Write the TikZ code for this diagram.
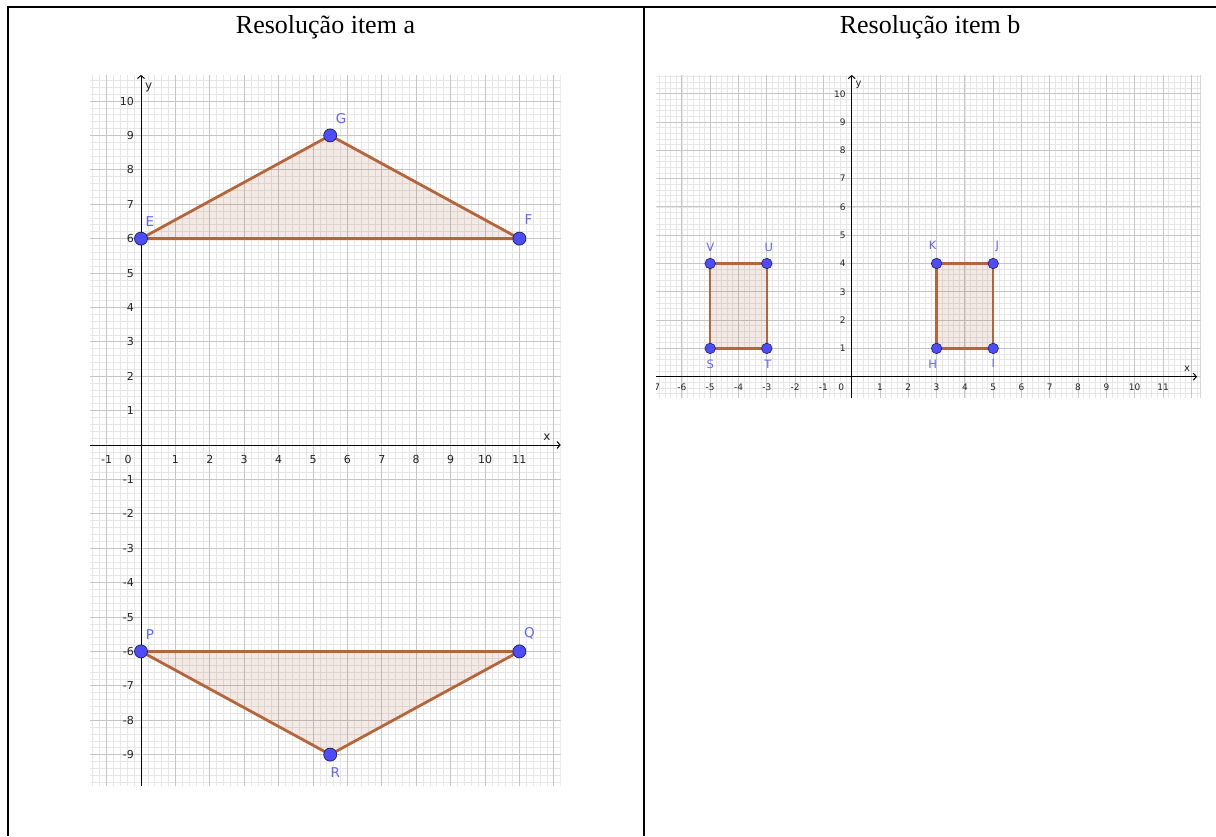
\documentclass[tikz,border=0pt]{standalone}
\usepackage{fontspec}
\setmainfont{Liberation Serif}
\newfontfamily\gfont{DejaVu Sans}
\usetikzlibrary{arrows.meta}
\definecolor{polyline}{RGB}{182,100,58}
\definecolor{polyfill}{RGB}{153,51,0}
\definecolor{ptfill}{RGB}{77,77,255}
\definecolor{ptdraw}{RGB}{30,30,80}
\definecolor{ptlabel}{RGB}{100,100,255}
\definecolor{majorgrid}{RGB}{198,198,198}
\definecolor{minorgrid}{RGB}{230,230,230}
\definecolor{ticklabel}{RGB}{35,35,35}
\tikzset{
  tableline/.style={line width=2pt, black},
  titletext/.style={font=\fontsize{26}{30}\selectfont, anchor=base, inner sep=0pt},
  minorline/.style={minorgrid, line width=0.7pt},
  majorline/.style={majorgrid, line width=1pt},
  axisline/.style={black, line width=1pt, -{Straight Barb[length=3pt,width=7pt]}},
  polyedgeA/.style={polyline, line width=2.8pt, line cap=round, line join=round},
  polyedgeB/.style={polyline, line width=2.3pt, line cap=round, line join=round},
  polyarea/.style={fill=polyfill, fill opacity=0.1},
  ptA/.style={circle, inner sep=0pt, minimum size=13pt, fill=ptfill, draw=ptdraw, line width=0.7pt},
  ptB/.style={circle, inner sep=0pt, minimum size=10.5pt, fill=ptfill, draw=ptdraw, line width=0.6pt},
  ptlabA/.style={text=ptlabel, font=\gfont\fontsize{13.5}{15}\selectfont, inner sep=0pt},
  ptlabB/.style={text=ptlabel, font=\gfont\fontsize{11.5}{13}\selectfont, inner sep=0pt},
  xlabA/.style={text=ticklabel, font=\gfont\fontsize{11}{13}\selectfont, inner sep=0pt, anchor=base, yshift=-18pt},
  ylabA/.style={text=ticklabel, font=\gfont\fontsize{11}{13}\selectfont, inner sep=0pt, anchor=base east, xshift=-7pt, yshift=-4pt},
  xlabB/.style={text=ticklabel, font=\gfont\fontsize{9}{11}\selectfont, inner sep=0pt, anchor=base, yshift=-13.3pt},
  ylabB/.style={text=ticklabel, font=\gfont\fontsize{9}{11}\selectfont, inner sep=0pt, anchor=base east, xshift=-6pt, yshift=-3.3pt},
  axlabA/.style={text=ticklabel, font=\gfont\fontsize{12}{14}\selectfont, inner sep=0pt},
  axlabB/.style={text=ticklabel, font=\gfont\fontsize{10}{12}\selectfont, inner sep=0pt},
}
\begin{document}
\begin{tikzpicture}[x=1pt,y=-1pt]
\useasboundingbox[fill=white] (0,0) rectangle (1216,836);

% table
\draw[tableline] (7,7) -- (1216,7);
\draw[tableline] (8,6) -- (8,836);
\draw[tableline] (644,6) -- (644,836);
\node[titletext] (ta) at (325.5,33) {Resolução item a};
\node[titletext] (tb) at (930,33) {Resolução item b};

% ---------- left graph ----------
\begin{scope}[shift={(141,445)}, x=34.4pt, y=34.4pt]
  \begin{scope}
    \clip (-1.48,-9.9) rectangle (12.2,10.76);
    \foreach \i in {-7,...,61} \draw[minorline] (\i/5,-9.9) -- (\i/5,10.76);
    \foreach \i in {-49,...,53} \draw[minorline] (-1.48,\i/5) -- (12.2,\i/5);
    \foreach \i in {-1,...,12} \draw[majorline] (\i,-9.9) -- (\i,10.76);
    \foreach \i in {-9,...,10} \draw[majorline] (-1.48,\i) -- (12.2,\i);
  \end{scope}
  \coordinate (cE) at (0,6);
  \coordinate (cF) at (11,6);
  \coordinate (cG) at (5.5,9);
  \coordinate (cP) at (0,-6);
  \coordinate (cQ) at (11,-6);
  \coordinate (cR) at (5.5,-9);
  \fill[polyarea] (cE) -- (cF) -- (cG) -- cycle;
  \fill[polyarea] (cP) -- (cQ) -- (cR) -- cycle;
  \coordinate (xa0) at (-1.48,0);
  \coordinate (xa1) at (12.2,0);
  \coordinate (ya0) at (0,-9.9);
  \coordinate (ya1) at (0,10.76);
  \draw[axisline] (xa0) -- (xa1);
  \draw[axisline] (ya0) -- (ya1);
  \foreach \k in {-1,1,2,3,4,5,6,7,8,9,10,11} \node[xlabA] (lxa\k) at (\k,0) {\k};
  \node[xlabA, xshift=-13pt] (lxa0) at (0,0) {0};
  \foreach \k in {-9,-8,-7,-6,-5,-4,-3,-2,-1,1,2,3,4,5,6,7,8,9,10} \node[ylabA] (lya\k) at (0,\k) {\k};
  \node[axlabA] (axxA) at (11.8,0.24) {x};
  \node[axlabA] (axyA) at (0.22,10.4) {y};
  \draw[polyedgeA] (cE) -- (cF) -- (cG) -- cycle;
  \draw[polyedgeA] (cP) -- (cQ) -- (cR) -- cycle;
  \node[ptA] (E) at (cE) {};
  \node[ptA] (F) at (cF) {};
  \node[ptA] (G) at (cG) {};
  \node[ptA] (P) at (cP) {};
  \node[ptA] (Q) at (cQ) {};
  \node[ptA] (R) at (cR) {};
  \node[ptlabA, xshift=9pt, yshift=17pt] (lE) at (cE) {E};
  \node[ptlabA, xshift=9pt, yshift=19pt] (lF) at (cF) {F};
  \node[ptlabA, xshift=11pt, yshift=17pt] (lG) at (cG) {G};
  \node[ptlabA, xshift=9pt, yshift=17pt] (lP) at (cP) {P};
  \node[ptlabA, xshift=10pt, yshift=18pt] (lQ) at (cQ) {Q};
  \node[ptlabA, xshift=5pt, yshift=-18pt] (lR) at (cR) {R};
\end{scope}

% ---------- right graph ----------
\begin{scope}[shift={(851.7,376.7)}, x=28.3pt, y=28.3pt]
  \begin{scope}
    \clip (-6.9,-0.75) rectangle (12.33,10.66);
    \foreach \i in {-34,...,61} \draw[minorline] (\i/5,-0.75) -- (\i/5,10.66);
    \foreach \i in {-3,...,53} \draw[minorline] (-6.9,\i/5) -- (12.33,\i/5);
    \foreach \i in {-6,...,12} \draw[majorline] (\i,-0.75) -- (\i,10.66);
    \foreach \i in {0,...,10} \draw[majorline] (-6.9,\i) -- (12.33,\i);
    \draw[majorgrid, line width=2pt] (12.33,-0.75) -- (12.33,10.66);
    \node[xlabB, xshift=2pt] (lxb-7) at (-7,0) {-7};
  \end{scope}
  \coordinate (cS) at (-5,1);
  \coordinate (cT) at (-3,1);
  \coordinate (cU) at (-3,4);
  \coordinate (cV) at (-5,4);
  \coordinate (cH) at (3,1);
  \coordinate (cI) at (5,1);
  \coordinate (cJ) at (5,4);
  \coordinate (cK) at (3,4);
  \fill[polyarea] (cS) -- (cT) -- (cU) -- (cV) -- cycle;
  \fill[polyarea] (cH) -- (cI) -- (cJ) -- (cK) -- cycle;
  \coordinate (xb0) at (-6.9,0);
  \coordinate (xb1) at (12.2,0);
  \coordinate (yb0) at (0,-0.75);
  \coordinate (yb1) at (0,10.66);
  \draw[axisline] (xb0) -- (xb1);
  \draw[axisline] (yb0) -- (yb1);
  \foreach \k in {-6,-5,-4,-3,-2,-1,1,2,3,4,5,6,7,8,9,10,11} \node[xlabB] (lxb\k) at (\k,0) {\k};
  \node[xlabB, xshift=-10.5pt] (lxb0) at (0,0) {0};
  \foreach \k in {1,...,10} \node[ylabB] (lyb\k) at (0,\k) {\k};
  \node[axlabB] (axxB) at (11.85,0.27) {x};
  \node[axlabB] (axyB) at (0.24,10.3) {y};
  \draw[polyedgeB] (cS) -- (cT) -- (cU) -- (cV) -- cycle;
  \draw[polyedgeB] (cH) -- (cI) -- (cJ) -- (cK) -- cycle;
  \node[ptB] (S) at (cS) {};
  \node[ptB] (T) at (cT) {};
  \node[ptB] (U) at (cU) {};
  \node[ptB] (V) at (cV) {};
  \node[ptB] (H) at (cH) {};
  \node[ptB] (I) at (cI) {};
  \node[ptB] (J) at (cJ) {};
  \node[ptB] (K) at (cK) {};
  \node[ptlabB, yshift=-16pt] (lS) at (cS) {S};
  \node[ptlabB, xshift=1pt, yshift=-16pt] (lT) at (cT) {T};
  \node[ptlabB, xshift=2pt, yshift=16pt] (lU) at (cU) {U};
  \node[ptlabB, yshift=16pt] (lV) at (cV) {V};
  \node[ptlabB, xshift=-4pt, yshift=-16pt] (lH) at (cH) {H};
  \node[ptlabB, yshift=-15pt] (lI) at (cI) {I};
  \node[ptlabB, xshift=4pt, yshift=17pt] (lJ) at (cJ) {J};
  \node[ptlabB, xshift=-4pt, yshift=18pt] (lK) at (cK) {K};
\end{scope}
\end{tikzpicture}
\end{document}
